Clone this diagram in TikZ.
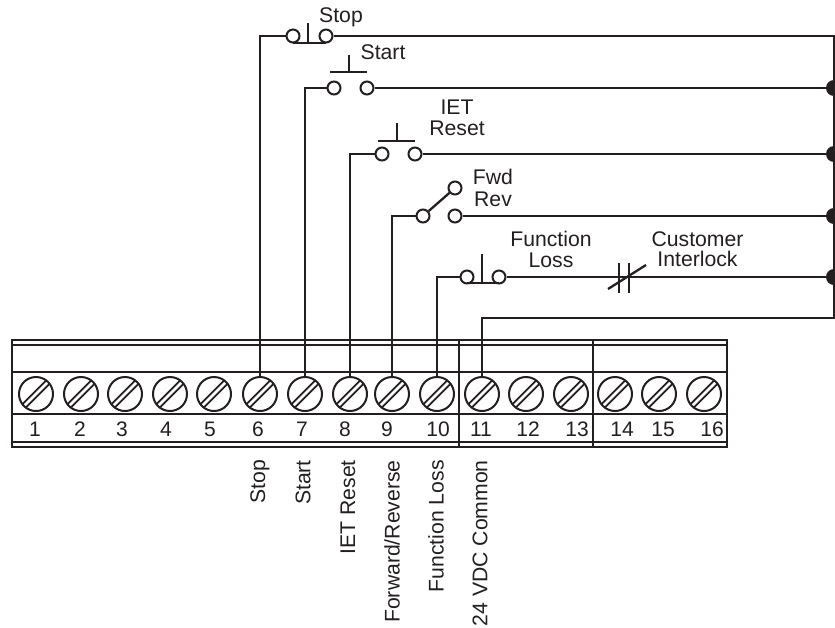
\documentclass[tikz,border=0pt]{standalone}
\usepackage{fontspec}
\setmainfont{Liberation Sans}
\definecolor{ink}{HTML}{231F20}
\begin{document}
\begin{tikzpicture}[x=1pt,y=-1pt,line cap=butt]
\tikzstyle{every node}+=[inner sep=0pt,text=ink]
\tikzstyle{wire}=[draw=ink,line width=2.3pt]
\tikzstyle{rule}=[draw=ink,line width=2pt]
\tikzstyle{slot}=[draw=ink,line width=1.7pt]
\tikzstyle{contact}=[circle,draw=ink,line width=2pt,minimum size=13pt]
\tikzstyle{screw}=[circle,draw=ink,line width=2pt,minimum size=34pt]
\tikzstyle{tie}=[circle,fill=ink,minimum size=16pt]
\tikzstyle{lbl}=[font=\fontsize{21.2}{21.2}\selectfont,align=center]
\tikzstyle{sidelbl}=[lbl,rotate=90,anchor=east]
\tikzstyle{termnum}=[font=\fontsize{21}{21}\selectfont]
\useasboundingbox (0,0) rectangle (835,627);
\draw [rule] (12,340) rectangle (727,447);
\draw [rule] (12,345) -- (727,345);
\draw [rule] (12,372) -- (727,372);
\draw [rule] (12,414) -- (727,414);
\draw [rule] (12,442) -- (727,442);
\draw [rule] (459,340) -- (459,447);
\draw [rule] (593,340) -- (593,447);
\foreach \n/\xpos in {1/36,2/81,3/125,4/170,5/214,6/260,7/305,8/350,9/392,10/437,11/482,12/526,13/571,14/615,15/659,16/704}{
  \node [screw] (s\n) at (\xpos,394) {};
  \draw [slot] ([shift={(-13.6,10.2)}]s\n.center) -- ([shift={(10.2,-13.6)}]s\n.center);
  \draw [slot] ([shift={(-10.2,13.6)}]s\n.center) -- ([shift={(13.6,-10.2)}]s\n.center);
}
\foreach \n/\xpos in {1/35,2/80,3/122,4/166,5/210,6/258,7/302,8/345,9/387,10/438,11/481,12/528,13/577,14/622,15/663,16/712}{
  \node [termnum] (n\n) at (\xpos,429) {\n};
}
\node [contact] (stopa) at (293,36) {};
\node [contact] (stopb) at (326,36) {};
\node [contact] (starta) at (334,88) {};
\node [contact] (startb) at (367,88) {};
\node [contact] (reseta) at (382,154) {};
\node [contact] (resetb) at (415,154) {};
\node [contact] (fwda) at (423,216) {};
\node [contact] (fwdb) at (455,188) {};
\node [contact] (revb) at (455,216) {};
\node [contact] (lossa) at (467,277) {};
\node [contact] (lossb) at (499,277) {};
\node [tie] (tiestart) at (834,88) {};
\node [tie] (tiereset) at (834,154) {};
\node [tie] (tierev) at (834,216) {};
\node [tie] (tieloss) at (834,277) {};
\coordinate (railtop) at (834,36);
\coordinate (railbot) at (834,318);
\draw [wire] (s6) |- (stopa);
\draw [wire] (s7) |- (starta);
\draw [wire] (s8) |- (reseta);
\draw [wire] (s9) |- (fwda);
\draw [wire] (s10) |- (lossa);
\draw [wire] (s11) |- (railbot) -- (railtop) -- (stopb);
\draw [wire] (startb) -- (tiestart);
\draw [wire] (resetb) -- (tiereset);
\draw [wire] (revb) -- (tierev);
\draw [wire] (lossb) -- (tieloss);
\draw [wire] (fwda) -- (fwdb);
\draw [rule] (293,42.5) -- (326,42.5);
\draw [wire] (308,23) -- (308,42.5);
\draw [wire] (330,72) -- (367,72);
\draw [wire] (349,55) -- (349,72);
\draw [wire] (378,141) -- (415,141);
\draw [wire] (397,123) -- (397,141);
\draw [rule] (467,283) -- (499,283);
\draw [wire] (482,254) -- (482,283);
\draw [wire] (619,263) -- (619,293);
\draw [wire] (629,263) -- (629,293);
\draw [wire] (608,289) -- (646,265);
\node [lbl] (stoptxt) at (341,17) {Stop};
\node [lbl] (starttxt) at (383,52) {Start};
\node [lbl] (resettxt) at (457,117.5) {IET\\[0pt]Reset};
\node [lbl] (fwdtxt) at (493,188) {Fwd\\[0pt]Rev};
\node [lbl] (losstxt) at (551,249.5) {Function\\[-1pt]Loss};
\node [lbl] (locktxt) at (697.5,249.5) {Customer\\[-1pt]Interlock};
\node [sidelbl] (side6) at (260,460) {Stop};
\node [sidelbl] (side7) at (303,460) {Start};
\node [sidelbl] (side8) at (348,460) {IET Reset};
\node [sidelbl] (side9) at (392,460) {Forward/Reverse};
\node [sidelbl] (side10) at (436,460) {Function Loss};
\node [sidelbl] (side11) at (480,460) {24 VDC Common};
\end{tikzpicture}
\end{document}
